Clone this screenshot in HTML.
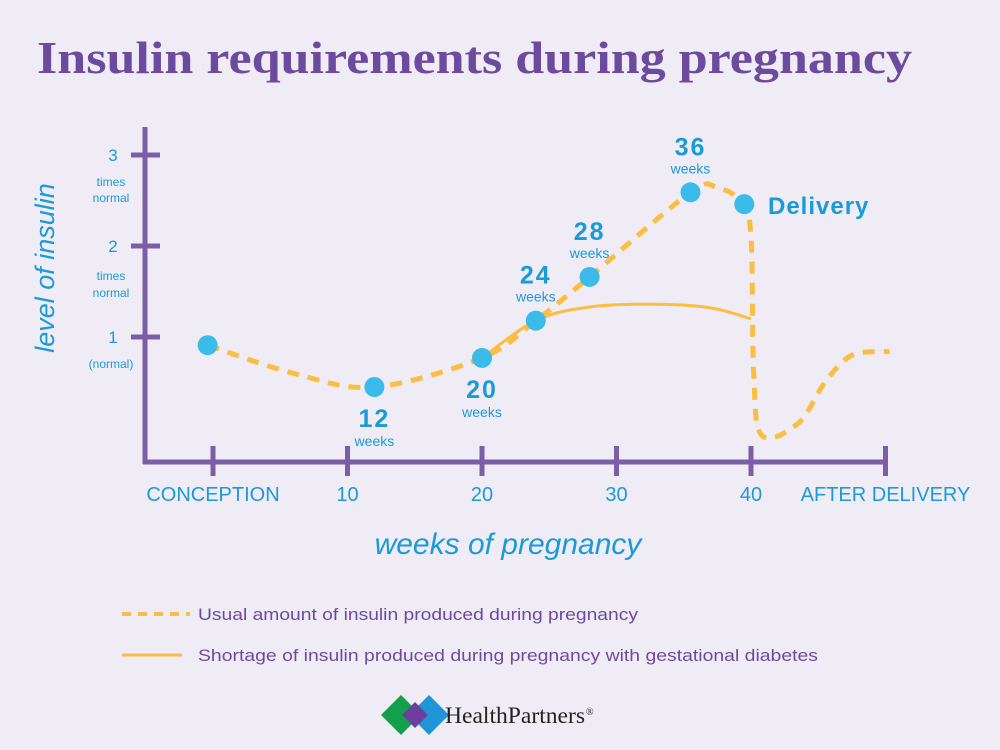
<!DOCTYPE html>
<html><head><meta charset="utf-8"><style>
body{margin:0;background:#f0ecf6;}
svg{display:block;font-family:"Liberation Sans",sans-serif;}
</style></head><body>
<svg width="1000" height="750" viewBox="0 0 1000 750">
<rect width="1000" height="750" fill="#f0ecf6"/>
<text x="37" y="73" font-family="Liberation Serif,serif" font-weight="bold" font-size="46" fill="#6c4a9e" textLength="875" lengthAdjust="spacingAndGlyphs">Insulin requirements during pregnancy</text>
<g id="axes" stroke="#7b5ea8" stroke-width="5" fill="none">
<line x1="145" y1="127" x2="145" y2="464"/>
<line x1="143" y1="462" x2="887" y2="462"/>
</g>
<g id="ticks"></g>
<g id="ylabels" fill="#1a9ad6" text-anchor="middle">
<text x="113" y="161" font-size="17">3</text>
<text x="111" y="186" font-size="12">times</text>
<text x="111" y="202" font-size="12">normal</text>
<text x="113" y="252" font-size="17">2</text>
<text x="111" y="280" font-size="12">times</text>
<text x="111" y="297" font-size="12">normal</text>
<text x="113" y="343" font-size="17">1</text>
<text x="111" y="368" font-size="12">(normal)</text>
</g>
<text transform="translate(54,268) rotate(-90)" text-anchor="middle" font-size="27" font-style="italic" fill="#1a9ad6">level of insulin</text>
<g id="xlabels" fill="#1a9ad6" font-size="20" text-anchor="middle"></g>
<text x="508" y="554" text-anchor="middle" font-size="30" font-style="italic" fill="#1a9ad6">weeks of pregnancy</text>
<g id="series"></g>
<g id="points"></g>
<text x="768" y="214" font-size="24" font-weight="bold" fill="#1a9ad6" letter-spacing="1">Delivery</text>
<g>
<line x1="122" y1="614" x2="190" y2="614" stroke="#fbbd43" stroke-width="4" stroke-dasharray="9,7"/>
<text x="198" y="620" font-size="17" fill="#6c4a9e" textLength="440" lengthAdjust="spacingAndGlyphs">Usual amount of insulin produced during pregnancy</text>
<line x1="122" y1="655" x2="182" y2="655" stroke="#fbbd43" stroke-width="3"/>
<text x="198" y="661" font-size="17" fill="#6c4a9e" textLength="620" lengthAdjust="spacingAndGlyphs">Shortage of insulin produced during pregnancy with gestational diabetes</text>
</g>
<g>
<polygon points="381,715 401,695 421,715 401,735" fill="#14a04a"/>
<polygon points="409,715 429,695 449,715 429,735" fill="#1d95d6"/>
<polygon points="402,715 415,702 428,715 415,728" fill="#6b3f9e"/>
<text x="445" y="723" font-family="Liberation Serif,serif" font-size="23" fill="#222" textLength="140" lengthAdjust="spacingAndGlyphs">HealthPartners</text>
<text x="586" y="715" font-family="Liberation Serif,serif" font-size="10" fill="#222">®</text>
</g>
</svg>
<script>
const xTickWeeks=[0,10,20,30,40,50];
const xTickLabels=["CONCEPTION","10","20","30","40","AFTER DELIVERY"];
const yTickLevels=[1,2,3];
const usualPoints=[[-0.4,0.91],[6,0.6],[12,0.45],[20,0.77],[24,1.18],[28,1.66],[35.5,2.59],[37.5,2.64],[39.3,2.48],[40,2.1],[40.2,0.6],[40.8,-0.08],[43.5,0.05],[45.5,0.5],[47.5,0.8],[50.3,0.84]];
const shortagePoints=[[20,0.77],[24,1.18],[28,1.33],[33,1.36],[37,1.32],[40,1.2]];
const markerWeeks=[-0.4,12,20,24,28,35.5,39.5];
const markerLevels=[0.91,0.45,0.77,1.18,1.66,2.59,2.46];
const markerLabels=["","12","20","24","28","36",""];
const markerLabelPos=["","below","below","above","above","above",""];

const NS="http://www.w3.org/2000/svg";
const xs=w=>213+w*13.45;
const ys=v=>337-(v-1)*91;
function mk(tag,attrs,parent){const e=document.createElementNS(NS,tag);for(const k in attrs)e.setAttribute(k,attrs[k]);parent.appendChild(e);return e;}
const ticks=document.getElementById('ticks');
xTickWeeks.forEach((w,i)=>{
 const t=mk('line',{x1:xs(w),x2:xs(w),y1:446,y2:476,stroke:'#7b5ea8','stroke-width':5},ticks);
 
 
 const l=mk('text',{x:xs(w),y:501},document.getElementById('xlabels'));
 l.textContent=xTickLabels[i];
 
 
});
yTickLevels.forEach(v=>{
 const t=mk('line',{x1:131,x2:160,y1:ys(v),y2:ys(v),stroke:'#7b5ea8','stroke-width':5},ticks);
 
 
});
function smooth(pts){
 const p=pts.map(d=>[xs(d[0]),ys(d[1])]);
 let s=`M${p[0][0]},${p[0][1]}`;
 for(let i=0;i<p.length-1;i++){
  const p0=p[i-1]||p[i],p1=p[i],p2=p[i+1],p3=p[i+2]||p2;
  const c1=[p1[0]+(p2[0]-p0[0])/6,p1[1]+(p2[1]-p0[1])/6];
  const c2=[p2[0]-(p3[0]-p1[0])/6,p2[1]-(p3[1]-p1[1])/6];
  s+=` C${c1[0]},${c1[1]} ${c2[0]},${c2[1]} ${p2[0]},${p2[1]}`;
 }
 return s;
}
const series=document.getElementById('series');
const sh=mk('path',{d:smooth(shortagePoints),fill:'none',stroke:'#fbbd43','stroke-width':3},series);


const us=mk('path',{d:smooth(usualPoints),fill:'none',stroke:'#fbbd43','stroke-width':5,'stroke-dasharray':'12,9'},series);


const pts=document.getElementById('points');
markerWeeks.forEach((w,i)=>{
 const c=mk('circle',{cx:xs(w),cy:ys(markerLevels[i]),r:10,fill:'#3bbbe9'},pts);
 
 
 if(markerLabels[i]){
  const x=xs(w),y=ys(markerLevels[i]);
  const b=markerLabelPos[i]==='below';
  const n=mk('text',{x:x,y:b?y+40:y-37,'text-anchor':'middle','font-size':25,'font-weight':'bold',fill:'#1a9ad6','letter-spacing':2},pts);
  n.textContent=markerLabels[i];
  
  
  const wk=mk('text',{x:x,y:b?y+59:y-19,'text-anchor':'middle','font-size':14,fill:'#1a9ad6'},pts);
  wk.textContent='weeks';
  
  
 }
});
</script>
</body></html>
